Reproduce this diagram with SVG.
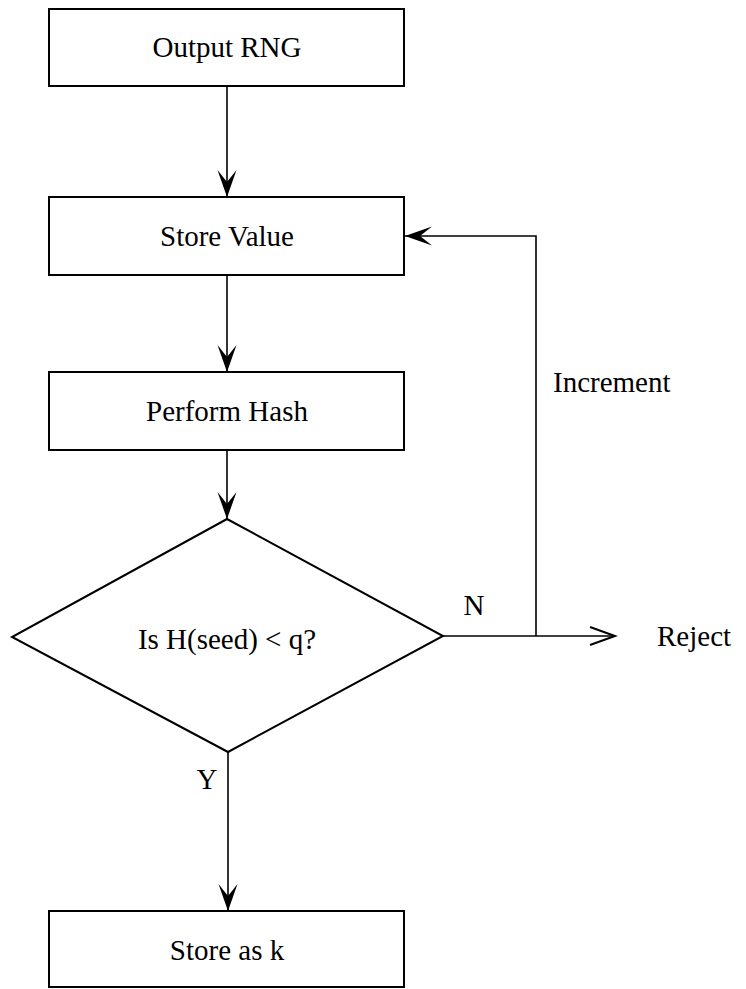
<svg xmlns="http://www.w3.org/2000/svg" width="746" height="989" viewBox="0 0 746 989">
<style>
.box{fill:#fff;stroke:#000;stroke-width:2}
.lbl{font-family:"Liberation Serif","Times New Roman",serif;font-size:29px;fill:#000}
.mid{text-anchor:middle}
.con{fill:none;stroke:#000;stroke-width:1.6}
</style>
<defs>
<marker id="ah" markerUnits="userSpaceOnUse" markerWidth="30" markerHeight="22" refX="0" refY="0" viewBox="-28 -11 30 22" orient="auto" overflow="visible">
<path d="M0,0 L-27,-9.5 L-15,0 L-27,9.5 Z" fill="#000"/>
</marker>
<marker id="ahOpen" markerUnits="userSpaceOnUse" markerWidth="30" markerHeight="22" refX="0" refY="0" viewBox="-28 -11 30 22" orient="auto" overflow="visible">
<path d="M-25,-9 L0,0 L-25,9" fill="none" stroke="#000" stroke-width="2"/>
</marker>
</defs>
<rect width="746" height="989" fill="#fff"/>
<g id="connectors">
<line class="con" x1="227" y1="86" x2="227" y2="197" marker-end="url(#ah)"/>
<line class="con" x1="227" y1="275" x2="227" y2="372" marker-end="url(#ah)"/>
<line class="con" x1="227" y1="450" x2="227" y2="519" marker-end="url(#ah)"/>
<line class="con" x1="228" y1="752" x2="228" y2="911" marker-end="url(#ah)"/>
<line class="con" x1="443" y1="636" x2="615" y2="636" marker-end="url(#ahOpen)"/>
<polyline class="con" points="536,636 536,236 405,236" marker-end="url(#ah)"/>
<text class="lbl" x="474" y="615" text-anchor="middle">N</text>
<text class="lbl" x="207" y="789" text-anchor="middle">Y</text>
<text class="lbl" x="553" y="392">Increment</text>
<text class="lbl" x="657" y="646">Reject</text>
</g>
<g id="output-rng">
<rect class="box" x="49" y="9" width="355" height="77"/>
<text class="lbl mid" x="227" y="57">Output RNG</text>
</g>
<g id="store-value">
<rect class="box" x="49" y="197" width="355" height="78"/>
<text class="lbl mid" x="227" y="246">Store Value</text>
</g>
<g id="perform-hash">
<rect class="box" x="49" y="372" width="355" height="78"/>
<text class="lbl mid" x="227" y="421">Perform Hash</text>
</g>
<g id="decision">
<polygon class="box" points="227,519 443,636 228,752 12,637"/>
<text class="lbl mid" x="227" y="649">Is H(seed) &lt; q?</text>
</g>
<g id="store-as-k">
<rect class="box" x="49" y="911" width="355" height="76"/>
<text class="lbl mid" x="227" y="960">Store as k</text>
</g>
</svg>
